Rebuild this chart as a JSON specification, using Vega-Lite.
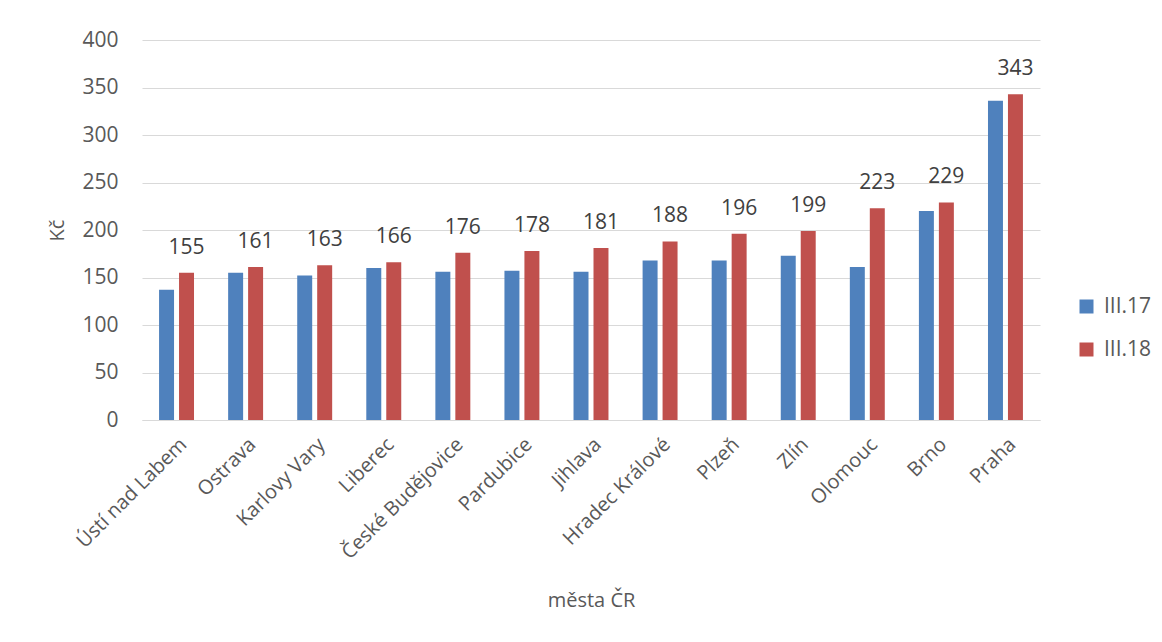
{
  "$schema": "https://vega.github.io/schema/vega-lite/v6.json",
  "width": 898,
  "height": 380,
  "autosize": {"type": "none"},
  "padding": {"left": 142, "top": 40, "right": 122, "bottom": 222},
  "background": "white",
  "config": {
    "font": "Open Sans",
    "view": {"stroke": null},
    "axis": {
      "labelColor": "#595959",
      "titleColor": "#595959",
      "labelFontSize": 20,
      "titleFontSize": 20,
      "titleFontWeight": "normal",
      "gridColor": "#d9d9d9",
      "gridWidth": 1.2,
      "domainColor": "#d9d9d9",
      "domainWidth": 1.2,
      "ticks": false
    },
    "legend": {"labelColor": "#595959", "labelFontSize": 21}
  },
  "data": {
    "values": [
      {"mesto": "Ústí nad Labem", "obdobi": "III.17", "cena": 137},
      {"mesto": "Ústí nad Labem", "obdobi": "III.18", "cena": 155},
      {"mesto": "Ostrava", "obdobi": "III.17", "cena": 155},
      {"mesto": "Ostrava", "obdobi": "III.18", "cena": 161},
      {"mesto": "Karlovy Vary", "obdobi": "III.17", "cena": 152},
      {"mesto": "Karlovy Vary", "obdobi": "III.18", "cena": 163},
      {"mesto": "Liberec", "obdobi": "III.17", "cena": 160},
      {"mesto": "Liberec", "obdobi": "III.18", "cena": 166},
      {"mesto": "České Budějovice", "obdobi": "III.17", "cena": 156},
      {"mesto": "České Budějovice", "obdobi": "III.18", "cena": 176},
      {"mesto": "Pardubice", "obdobi": "III.17", "cena": 157},
      {"mesto": "Pardubice", "obdobi": "III.18", "cena": 178},
      {"mesto": "Jihlava", "obdobi": "III.17", "cena": 156},
      {"mesto": "Jihlava", "obdobi": "III.18", "cena": 181},
      {"mesto": "Hradec Králové", "obdobi": "III.17", "cena": 168},
      {"mesto": "Hradec Králové", "obdobi": "III.18", "cena": 188},
      {"mesto": "Plzeň", "obdobi": "III.17", "cena": 168},
      {"mesto": "Plzeň", "obdobi": "III.18", "cena": 196},
      {"mesto": "Zlín", "obdobi": "III.17", "cena": 173},
      {"mesto": "Zlín", "obdobi": "III.18", "cena": 199},
      {"mesto": "Olomouc", "obdobi": "III.17", "cena": 161},
      {"mesto": "Olomouc", "obdobi": "III.18", "cena": 223},
      {"mesto": "Brno", "obdobi": "III.17", "cena": 220},
      {"mesto": "Brno", "obdobi": "III.18", "cena": 229},
      {"mesto": "Praha", "obdobi": "III.17", "cena": 336},
      {"mesto": "Praha", "obdobi": "III.18", "cena": 343}
    ]
  },
  "encoding": {
    "x": {
      "field": "mesto",
      "type": "nominal",
      "sort": null,
      "title": "města ČR",
      "scale": {"paddingInner": 0.494, "paddingOuter": 0.247},
      "axis": {"labelAngle": -45, "labelPadding": 14, "titlePadding": 28, "grid": false}
    },
    "xOffset": {
      "field": "obdobi",
      "type": "nominal",
      "scale": {"paddingInner": 0.25, "paddingOuter": 0}
    },
    "y": {
      "field": "cena",
      "type": "quantitative",
      "title": "Kč",
      "scale": {"domain": [0, 400]},
      "axis": {"values": [0, 50, 100, 150, 200, 250, 300, 350, 400], "domain": false, "labelPadding": 24, "titlePadding": 14, "labelFontSize": 21}
    }
  },
  "layer": [
    {
      "mark": {"type": "bar"},
      "encoding": {
        "color": {
          "field": "obdobi",
          "type": "nominal",
          "title": null,
          "scale": {"range": ["#4f81bd", "#c0504d"]},
          "legend": {
            "orient": "none",
            "legendX": 934,
            "legendY": 256,
            "symbolType": "square",
            "symbolSize": 196,
            "symbolStrokeWidth": 0,
            "rowPadding": 21,
            "labelOffset": 7
          }
        }
      }
    },
    {
      "transform": [{"filter": "datum.obdobi === 'III.18'"}],
      "mark": {"type": "text", "baseline": "alphabetic", "dy": -19, "fontSize": 21, "color": "#404040"},
      "encoding": {"text": {"field": "cena", "type": "quantitative"}}
    }
  ]
}
